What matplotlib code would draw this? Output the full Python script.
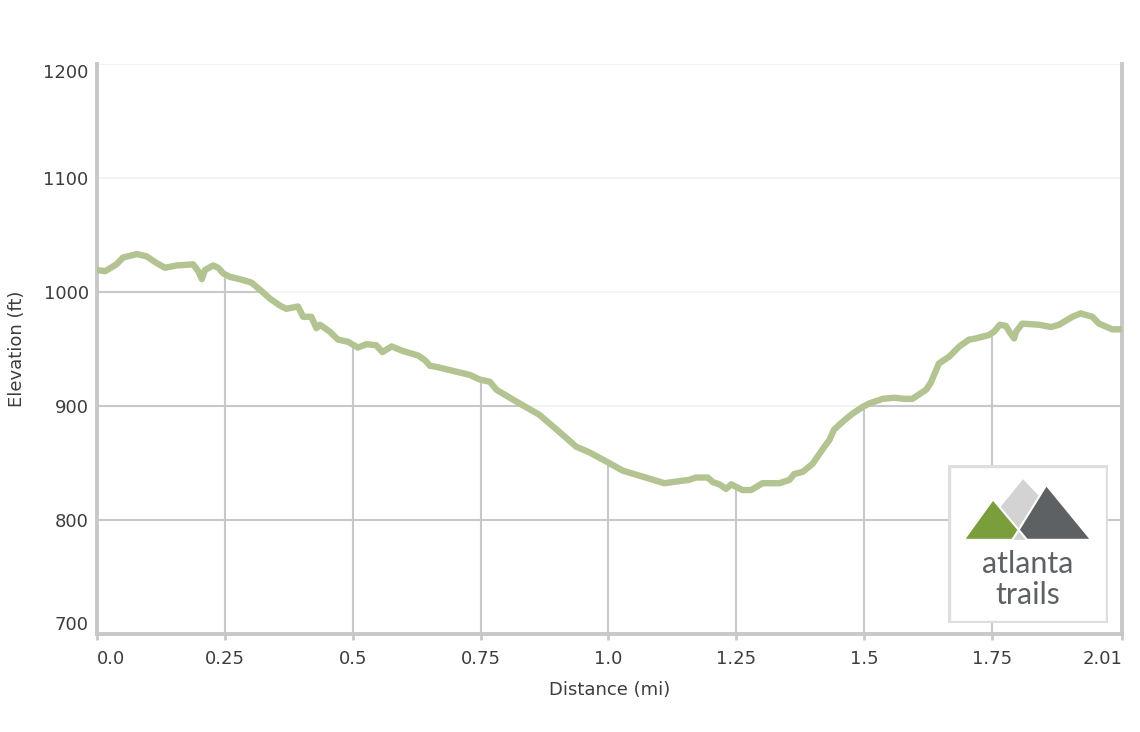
import matplotlib
matplotlib.use("Agg")
import matplotlib.pyplot as plt
from matplotlib.patches import Polygon, Rectangle

# elevation profile (distance in miles, elevation in feet)
distance = [0.000, 0.016, 0.038, 0.051, 0.078, 0.097, 0.117, 0.133, 0.156, 0.188,
            0.198, 0.205, 0.211, 0.227, 0.237, 0.247, 0.260, 0.279, 0.302, 0.318,
            0.338, 0.357, 0.370, 0.393, 0.403, 0.419, 0.429, 0.436, 0.455, 0.471,
            0.491, 0.510, 0.527, 0.546, 0.558, 0.576, 0.598, 0.628, 0.641, 0.651,
            0.664, 0.729, 0.748, 0.768, 0.781, 0.826, 0.865, 0.904, 0.937, 0.963,
            0.996, 1.028, 1.080, 1.109, 1.158, 1.171, 1.194, 1.204, 1.217, 1.230,
            1.240, 1.262, 1.279, 1.301, 1.334, 1.354, 1.363, 1.380, 1.399, 1.419,
            1.432, 1.441, 1.458, 1.477, 1.497, 1.510, 1.536, 1.559, 1.578, 1.594,
            1.621, 1.630, 1.646, 1.666, 1.686, 1.705, 1.718, 1.744, 1.754, 1.765,
            1.777, 1.785, 1.793, 1.797, 1.809, 1.842, 1.865, 1.881, 1.907, 1.923,
            1.946, 1.959, 1.985, 2.004]
elevation = [1019, 1018, 1024, 1030, 1033, 1031, 1025, 1021, 1023, 1024,
             1018, 1011, 1019, 1023, 1021, 1016, 1013, 1011, 1008, 1002,
             994, 988, 985, 987, 978, 978, 968, 971, 965, 958,
             956, 951, 954, 953, 947, 952, 948, 944, 940, 935,
             934, 927, 923, 921, 914, 902, 892, 877, 864, 859,
             851, 843, 836, 832, 835, 837, 837, 833, 831, 827,
             831, 826, 826, 832, 832, 835, 840, 842, 849, 862,
             870, 879, 886, 893, 899, 902, 906, 907, 906, 906,
             914, 920, 937, 943, 952, 958, 959, 962, 965, 971,
             970, 964, 959, 965, 972, 971, 969, 971, 978, 981,
             978, 972, 967, 967]

x_ticks = [0.0, 0.25, 0.5, 0.75, 1.0, 1.25, 1.5, 1.75, 2.004]
x_tick_labels = ["0.0", "0.25", "0.5", "0.75", "1.0", "1.25", "1.5", "1.75", "2.01"]
y_ticks = [700, 800, 900, 1000, 1100, 1200]

line_color = "#b3c492"
grid_dark = "#c8c8c8"
grid_light = "#f1f1f1"
text_color = "#3d3d3d"

fig = plt.figure(figsize=(11.4, 7.32), dpi=100)
ax = fig.add_axes([97 / 1140, 98.3 / 732, 1025 / 1140, 570 / 732])
ax.set_xlim(0, 2.004)
ax.set_ylim(700, 1200)

# faint grid everywhere, darker grid only underneath the profile
area = Polygon(list(zip(distance, elevation)) + [(distance[-1], 700), (distance[0], 700)],
               closed=True, facecolor="none", edgecolor="none", transform=ax.transData)
ax.add_patch(area)
for y in y_ticks[1:]:
    ax.axhline(y, color=grid_light, lw=1.2, zorder=0)
    gl = ax.axhline(y, color=grid_dark, lw=1.5, zorder=1)
    gl.set_clip_path(area)
for x in x_ticks[1:-1]:
    gl = ax.axvline(x, color=grid_dark, lw=1.5, zorder=1)
    gl.set_clip_path(area)

ax.plot(distance, elevation, color=line_color, lw=4.6, solid_joinstyle="round",
        solid_capstyle="round", zorder=3)

for side in ["left", "bottom", "right"]:
    ax.spines[side].set_color(grid_dark)
    ax.spines[side].set_linewidth(2.8)
ax.spines["top"].set_visible(False)

ax.set_xticks(x_ticks)
ax.set_xticklabels(x_tick_labels)
ax.set_yticks(y_ticks)
ax.tick_params(axis="x", colors=grid_dark, length=4, width=2, labelcolor=text_color,
               labelsize=13, pad=8)
ax.tick_params(axis="y", length=0, labelcolor=text_color, labelsize=13, pad=6)
xl = ax.get_xticklabels()
xl[0].set_ha("left")
xl[-1].set_ha("right")
yl = ax.get_yticklabels()
yl[0].set_va("bottom")
yl[-1].set_va("top")

ax.set_xlabel("Distance (mi)", fontsize=13, color=text_color)
ax.set_ylabel("Elevation (ft)", fontsize=13, color=text_color)
ax.xaxis.set_label_coords(0.5, -0.083)
ax.yaxis.set_label_coords(-0.069, 0.5)

# logo box
lg = fig.add_axes([948 / 1140, 109 / 732, 160 / 1140, 158 / 732])
lg.set_xlim(25, 505)
lg.set_ylim(520, 45)
lg.axis("off")
lg.add_patch(Rectangle((28, 48), 474, 469, facecolor="white", edgecolor="#dedede", lw=2.4))
lg.add_patch(Polygon([(250, 88), (102, 270), (425, 270)], closed=True,
                     facecolor="#d3d3d3", edgecolor="none"))
lg.add_patch(Polygon([(72, 270), (160, 148), (237, 240), (218, 270)], closed=True,
                     facecolor="#7a9e3b", edgecolor="white", lw=1.5, joinstyle="round"))
lg.add_patch(Polygon([(455, 270), (320, 105), (237, 240), (262, 270)], closed=True,
                     facecolor="#5e6163", edgecolor="white", lw=1.5, joinstyle="round"))
lg.text(265, 343, "atlanta", ha="center", va="center", fontsize=22, color="#5e6163",
        family="Lato")
lg.text(265, 437, "trails", ha="center", va="center", fontsize=22, color="#5e6163",
        family="Lato")

fig.savefig("out.png", dpi=100)
